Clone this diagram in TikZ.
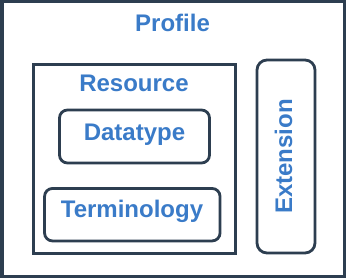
\documentclass[tikz,border=0pt]{standalone}
\usepackage{fontspec}
\setmainfont{Liberation Sans}
\usetikzlibrary{positioning}
\definecolor{prfline}{HTML}{2D3E50}
\definecolor{prfblue}{HTML}{3A7BC8}
\tikzset{
  framebox/.style={draw=prfline,line width=2.8pt,inner sep=0pt,fill=white},
  itembox/.style={framebox,rounded corners=8pt},
  titletext/.style={text=prfblue,font=\bfseries\fontsize{24}{28}\selectfont,
                    inner sep=0pt,anchor=base}
}

\begin{document}
\begin{tikzpicture}[x=1pt,y=-1pt]
    \useasboundingbox (0,0) rectangle (346,279);
    \node[framebox,line width=3.5pt,minimum width=342.5pt,minimum height=274.75pt] (profile) at (173,139.1) {};
    \node[framebox,minimum width=202pt,minimum height=189pt] (resource) at (134.5,159) {};
    \node[itembox,minimum width=150pt,minimum height=53pt] (datatype) at (134.5,136.5) {};
    \node[itembox,minimum width=175.5pt,minimum height=52.5pt] (terminology) at (132.3,214.7) {};
    \node[itembox,rounded corners=10pt,minimum width=58pt,minimum height=193pt] (extension) at (286,156.5) {};

    \node[titletext] (profiletxt) at (172.5,31.5) {Profile};
    \node[titletext] (resourcetxt) at (134,91.5) {Resource};
    \node[titletext] (datatypetxt) at (134.5,140) {Datatype};
    \node[titletext] (terminologytxt) at (132,217) {Terminology};
    \node[titletext,rotate=90] (extensiontxt) at (292,156.5) {Extension};
  \end{tikzpicture}
\end{document}
